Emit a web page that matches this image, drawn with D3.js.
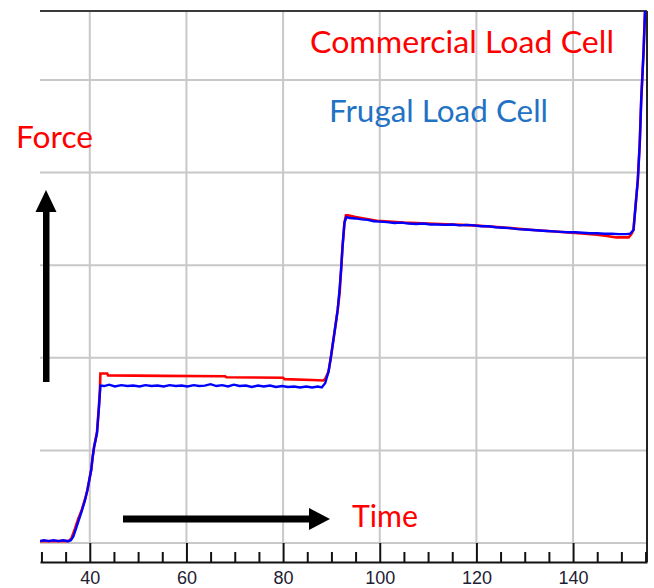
<!DOCTYPE html>
<html>
<head>
<meta charset="utf-8">
<script src="https://cdn.jsdelivr.net/npm/d3@7"></script>
<style>
  body { margin: 0; background: #fff; }
</style>
</head>
<body>
<div id="chart"></div>
<script>
// Commercial load cell (red)
const commercialTime = [29.7, 33.0, 35.6, 36.2, 36.9, 37.6, 38.3, 39.0, 39.5, 39.9, 40.3, 40.6, 40.9, 41.2, 41.5, 41.9, 42.1, 42.2,
  43.6, 43.8, 55.0, 68.0, 68.3, 80.0, 80.3, 86.0, 88.3,
  88.7, 89.4, 89.9, 90.4, 90.9, 91.3, 91.7, 92.0, 92.3, 92.7, 93.0, 93.4,
  95.0, 99.4, 105.0, 110.0, 119.3, 125.0, 131.8, 139.8, 145.0, 147.0, 149.0, 151.5,
  152.0, 152.5, 152.8, 153.4, 153.8, 154.1, 154.6, 155.0];
const commercialForce = [0.02, 0.02, 0.02, 0.05, 0.15, 0.26, 0.35, 0.47, 0.57, 0.68, 0.79, 0.93, 1.04, 1.12, 1.20, 1.48, 1.66, 1.83,
  1.83, 1.81, 1.805, 1.80, 1.79, 1.785, 1.77, 1.76, 1.755,
  1.77, 1.85, 2.01, 2.19, 2.37, 2.52, 2.70, 2.95, 3.20, 3.46, 3.54, 3.54,
  3.52, 3.48, 3.46, 3.45, 3.43, 3.41, 3.38, 3.35, 3.33, 3.315, 3.30, 3.30,
  3.33, 3.38, 3.56, 3.92, 4.32, 4.78, 5.32, 5.90];

// Frugal load cell (blue)
const frugalTime = [29.7, 30.5, 31.5, 32.5, 33.5, 34.5, 35.5, 36.1, 36.6, 37.3, 38.3, 39.0, 39.5, 39.9, 40.3, 40.6, 40.9, 41.2, 41.5, 41.9, 42.2,
  43.0, 44.0, 45.2, 46.5, 47.8, 49.0, 50.3, 51.5, 52.8, 54.0, 55.3, 56.5, 57.8, 59.0, 60.2, 61.5, 62.6, 63.8, 65.0,
  66.2, 67.4, 68.6, 69.8, 71.0, 72.3, 73.5, 74.8, 76.0, 77.3, 78.5, 79.8, 81.0, 82.3, 83.5, 84.8, 86.0, 87.2, 88.0,
  88.7, 89.4, 89.9, 90.4, 90.9, 91.3, 91.7, 92.0, 92.3, 92.7, 93.1,
  93.8, 95.0, 96.3, 97.5, 98.8, 100.0, 101.5, 103.0, 104.5, 106.0, 107.5, 109.0, 110.5, 112.0, 113.5, 115.0, 116.5, 118.0,
  119.5, 121.0, 122.5, 124.0, 125.5, 127.0, 128.5, 130.0, 131.5, 133.0, 134.5, 136.0, 137.5, 139.0, 140.5, 142.0, 143.5,
  145.0, 146.5, 148.0, 149.5, 151.0, 151.8,
  152.5, 152.8, 153.4, 153.8, 154.1, 154.6, 155.0];
const frugalForce = [0.02, 0.03, 0.02, 0.03, 0.02, 0.03, 0.02, 0.03, 0.07, 0.18, 0.34, 0.46, 0.57, 0.68, 0.79, 0.93, 1.04, 1.11, 1.19, 1.47, 1.70,
  1.695, 1.71, 1.69, 1.705, 1.695, 1.70, 1.69, 1.705, 1.695, 1.70, 1.69, 1.705, 1.695, 1.70, 1.69, 1.705, 1.695, 1.70, 1.715,
  1.695, 1.705, 1.69, 1.71, 1.695, 1.70, 1.685, 1.70, 1.69, 1.70, 1.685, 1.695, 1.685, 1.69, 1.68, 1.69, 1.68, 1.69, 1.68,
  1.725, 1.85, 2.01, 2.19, 2.37, 2.52, 2.75, 2.95, 3.20, 3.46, 3.52,
  3.51, 3.505, 3.495, 3.49, 3.475, 3.47, 3.465, 3.455, 3.46, 3.45, 3.445, 3.45, 3.44, 3.44, 3.435, 3.44, 3.43, 3.435,
  3.43, 3.42, 3.42, 3.41, 3.405, 3.40, 3.39, 3.385, 3.38, 3.375, 3.37, 3.365, 3.36, 3.355, 3.355, 3.35, 3.345,
  3.345, 3.34, 3.34, 3.335, 3.335, 3.34,
  3.38, 3.56, 3.92, 4.32, 4.78, 5.32, 5.90];

const majorTicks = [40, 60, 80, 100, 120, 140];
const minorTicks = [30, 35, 45, 50, 55, 65, 70, 75, 85, 90, 95, 105, 110, 115, 125, 130, 135, 145, 150, 155];
const gridRows = [0, 1, 2, 3, 4, 5];

const W = 654, H = 588;
const plotLeft = 40, plotRight = 647, plotTop = 11, gridBottom = 543, axisY = 562;

const svg = d3.select("#chart").append("svg")
  .attr("width", W)
  .attr("height", H)
  .style("font-family", "Lato, 'Open Sans', sans-serif");

const x = d3.scaleLinear().domain([29.7, 155.3]).range([plotLeft, plotRight]);
const y = d3.scaleLinear().domain([0, 5.745]).range([gridBottom, plotTop]);

// grid
svg.append("g").selectAll("line")
  .data(gridRows)
  .enter().append("line")
  .attr("x1", plotLeft).attr("x2", plotRight)
  .attr("y1", d => y(d)).attr("y2", d => y(d))
  .attr("stroke", "#c8c8c8").attr("stroke-width", 2);

svg.append("g").selectAll("line")
  .data(majorTicks)
  .enter().append("line")
  .attr("x1", d => x(d)).attr("x2", d => x(d))
  .attr("y1", plotTop).attr("y2", gridBottom)
  .attr("stroke", "#c8c8c8").attr("stroke-width", 2);

// frame (top and right only)
svg.append("line")
  .attr("x1", plotLeft).attr("x2", plotRight).attr("y1", plotTop).attr("y2", plotTop)
  .attr("stroke", "#3a3a3a").attr("stroke-width", 2);
svg.append("line")
  .attr("x1", plotRight).attr("x2", plotRight).attr("y1", plotTop).attr("y2", axisY)
  .attr("stroke", "#222").attr("stroke-width", 2);

// x axis: minor ticks, then major ticks with labels
svg.append("g")
  .attr("transform", `translate(0,${axisY})`)
  .call(d3.axisBottom(x).tickValues(minorTicks).tickSizeInner(-10).tickSizeOuter(0).tickFormat(""))
  .call(g => g.selectAll("line").attr("stroke", "#111").attr("stroke-width", 2))
  .call(g => g.select(".domain").attr("stroke", "#111").attr("stroke-width", 2));

svg.append("g")
  .attr("transform", `translate(0,${axisY})`)
  .call(d3.axisBottom(x).tickValues(majorTicks).tickSizeInner(-19).tickSizeOuter(0).tickPadding(9))
  .call(g => g.select(".domain").remove())
  .call(g => g.selectAll("line").attr("stroke", "#111").attr("stroke-width", 2))
  .call(g => g.selectAll("text")
    .attr("fill", "#1e2033")
    .style("font-family", "'Liberation Sans', Arial, sans-serif")
    .style("font-size", "18px"));

// series
svg.append("clipPath").attr("id", "plot")
  .append("rect").attr("x", plotLeft).attr("y", plotTop).attr("width", plotRight - plotLeft).attr("height", axisY - plotTop);

const line = d3.line().x(d => x(d[0])).y(d => y(d[1]));
const commercial = commercialTime.map((t, i) => [t, commercialForce[i]]);
const frugal = frugalTime.map((t, i) => [t, frugalForce[i]]);

svg.append("path")
  .datum(commercial)
  .attr("clip-path", "url(#plot)")
  .attr("d", line)
  .attr("fill", "none")
  .attr("stroke", "#ff0000")
  .attr("stroke-width", 2.6);

svg.append("path")
  .datum(frugal)
  .attr("clip-path", "url(#plot)")
  .attr("d", line)
  .attr("fill", "none")
  .attr("stroke", "#0000ff")
  .attr("stroke-width", 2.4);

// labels
const labels = [
  {text: "Commercial Load Cell", x: 310, y: 53, len: 304, color: "#ff0000"},
  {text: "Frugal Load Cell", x: 329, y: 122, len: 219, color: "#1f72c4"},
  {text: "Force", x: 16, y: 148, len: 77, color: "#ff0000"},
  {text: "Time", x: 352, y: 527, len: 66, color: "#ff0000"}
];
svg.append("g").selectAll("text")
  .data(labels)
  .enter().append("text")
  .attr("x", d => d.x)
  .attr("y", d => d.y)
  .attr("textLength", d => d.len)
  .attr("lengthAdjust", "spacingAndGlyphs")
  .attr("fill", d => d.color)
  .style("font-size", "31px")
  .text(d => d.text);

// arrows
svg.append("rect").attr("x", 43).attr("y", 210).attr("width", 6.5).attr("height", 172).attr("fill", "#000");
svg.append("path").attr("d", "M46,190 L56.5,212 L35.5,212 Z").attr("fill", "#000");

svg.append("rect").attr("x", 123).attr("y", 515.5).attr("width", 188).attr("height", 7).attr("fill", "#000");
svg.append("path").attr("d", "M330,519 L309,508 L309,530 Z").attr("fill", "#000");
</script>
</body>
</html>
